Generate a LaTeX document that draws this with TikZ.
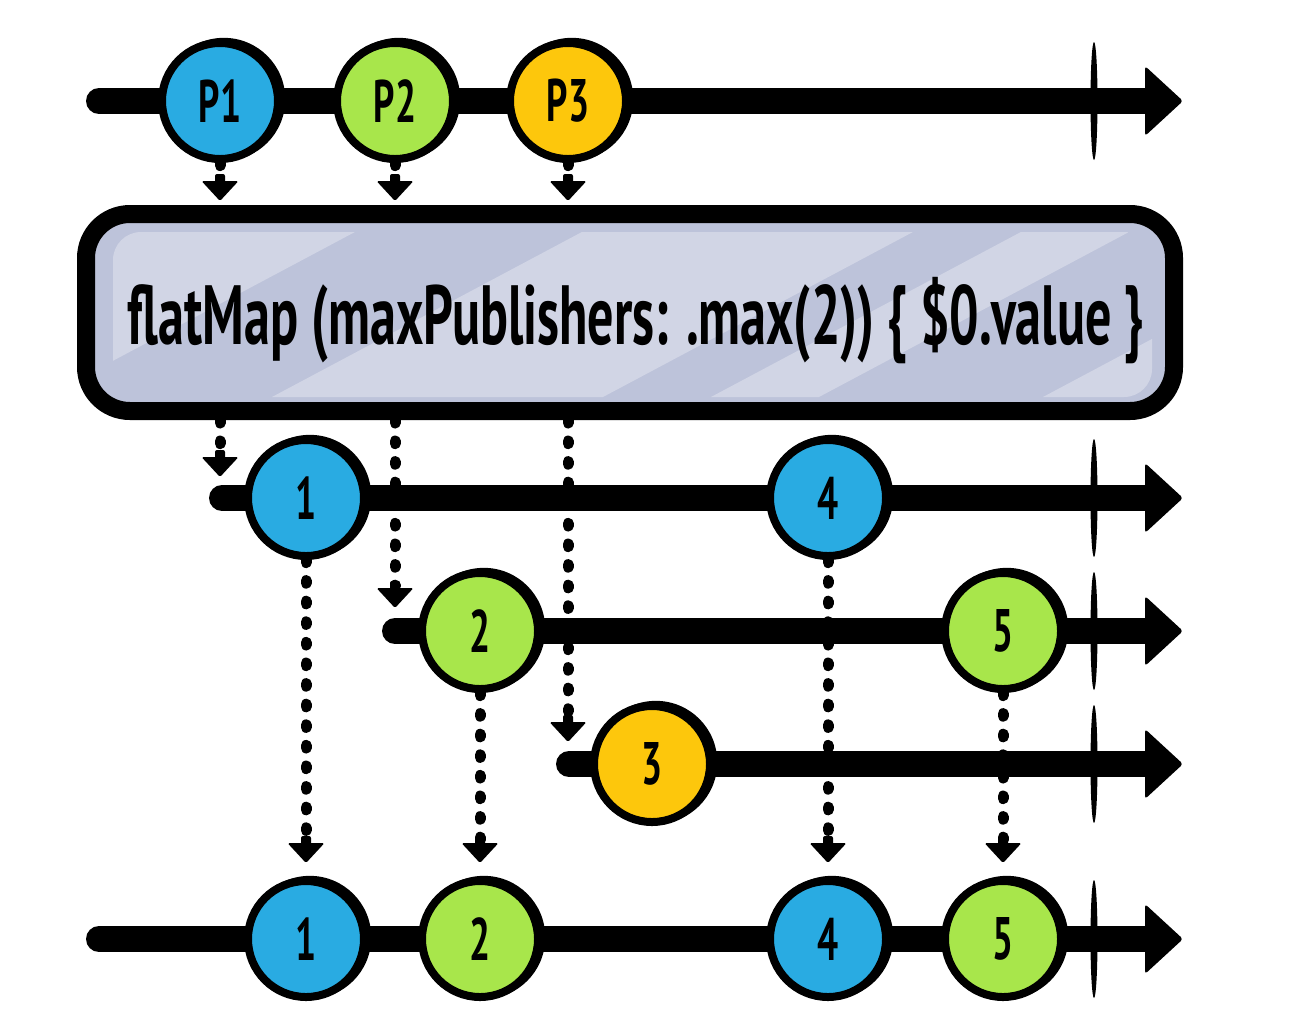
\documentclass[tikz,border=0pt]{standalone}
\usepackage{fontspec}
\usepackage{graphicx}
\newfontfamily\handfont{PT Sans}
\usetikzlibrary{calc,shadows}
\definecolor{cblue}{HTML}{29ABE2}
\definecolor{cgreen}{HTML}{A8E64B}
\definecolor{cyellow}{HTML}{FDC70C}
\definecolor{boxbase}{HTML}{BDC3DA}
\definecolor{boxlight}{HTML}{D1D5E5}
\newcommand{\lab}[1]{\scalebox{0.62}[1]{#1}}
\begin{document}
\begin{tikzpicture}[x=0.5pt,y=-0.5pt,
  tline/.style={line width=13pt, line cap=round},
  marble/.style={circle, draw=black, line width=4pt, minimum size=58pt, inner sep=0pt,
    font=\handfont\bfseries\fontsize{30}{30}\selectfont,
    general shadow={fill=black, shadow scale=1.06, shadow xshift=1.8pt, shadow yshift=0.8pt}},
  mblue/.style={marble, fill=cblue},
  mgreen/.style={marble, fill=cgreen},
  myellow/.style={marble, fill=cyellow},
  dots/.style={line width=5.5pt, line cap=round, dash pattern=on 1.3pt off 9pt},
  dtip/.pic={\fill[rounded corners=0.8pt] (-18.5,-20) -- (18.5,-20) -- (0,0) -- cycle;
             \fill[rounded corners=1pt] (-5,-27) rectangle (5,-18);},
  bigtip/.pic={\fill[rounded corners=1.5pt] (-38,-35) -- (0,0) -- (-38,35) -- cycle;}
]
\useasboundingbox (0,0) rectangle (1300,1024);

% ---------- timelines ----------
\coordinate (s0) at (99,101);  \coordinate (e0) at (1150,101);
\coordinate (s1) at (222,498); \coordinate (e1) at (1150,498);
\coordinate (s2) at (395,631); \coordinate (e2) at (1150,631);
\coordinate (s3) at (569,764); \coordinate (e3) at (1150,764);
\coordinate (s4) at (99,939);  \coordinate (e4) at (1150,939);
\foreach \i/\y in {0/101,1/498,2/631,3/764,4/939}{
  \draw[tline] (s\i) -- (e\i);
  \pic at (1183,\y) {bigtip};
  \fill (1094,\y) ellipse [x radius=3.5, y radius=59];
}

% ---------- operator box ----------
\fill[boxbase, rounded corners=22pt] (86,214) rectangle (1174,411);
\begin{scope}
  \clip[rounded corners=14pt] (113,232) rectangle (1152,397);
  \fill[boxlight] (-540,200) -- (415,200) -- (-17,430) -- (-972,430) -- cycle;
  \fill[boxlight] (642,200) -- (973,200) -- (541,430) -- (210,430) -- cycle;
  \fill[boxlight] (1081,200) -- (1189,200) -- (757,430) -- (649,430) -- cycle;
  \fill[boxlight] (1413,200) -- (1960,200) -- (1528,430) -- (981,430) -- cycle;
\end{scope}
\draw[line width=9pt, rounded corners=22pt] (86,214) rectangle (1174,411);
\node[inner sep=0pt, minimum width=553pt, minimum height=107.5pt] (op) at (630,312.5)
  {\hspace*{6pt}\raisebox{-16pt}[0pt][0pt]{\resizebox{508pt}{\height}{\handfont\bfseries\fontsize{42}{42}\selectfont flatMap (maxPublishers: .max(2)) \{ \$0.value \}}}};

% ---------- marbles ----------
\node[mblue]   (p1) at (220,101) {\lab{P1}};
\node[mgreen]  (p2) at (395,101) {\lab{P2}};
\node[myellow] (p3) at (568,101) {\lab{P3}};

\node[mblue]   (a1) at (306,498) {\lab{1}};
\node[mblue]   (a4) at (828,498) {\lab{4}};
\node[mgreen]  (b2) at (480,631) {\lab{2}};
\node[mgreen]  (b5) at (1003,631) {\lab{5}};
\node[myellow] (c3) at (652,764) {\lab{3}};

\node[mblue]   (o1) at (306,939) {\lab{1}};
\node[mgreen]  (o2) at (480,939) {\lab{2}};
\node[mblue]   (o4) at (828,939) {\lab{4}};
\node[mgreen]  (o5) at (1003,939) {\lab{5}};

% ---------- dotted connectors ----------
\coordinate (t1) at (220,201); \coordinate (t2) at (395,201); \coordinate (t3) at (568,201);
\draw[dots] (p1.south) -- ($(t1)+(0,-22)$); \pic at (t1) {dtip};
\draw[dots] (p2.south) -- ($(t2)+(0,-22)$); \pic at (t2) {dtip};
\draw[dots] (p3.south) -- ($(t3)+(0,-22)$); \pic at (t3) {dtip};

\coordinate (q1) at (220,477); \coordinate (q2) at (395,608); \coordinate (q3) at (568,742);
\draw[dots] (op.south -| q1) -- ($(q1)+(0,-22)$); \pic at (q1) {dtip};
\draw[dots] (op.south -| q2) -- ($(q2)+(0,-22)$); \pic at (q2) {dtip};
\draw[dots] (op.south -| q3) -- ($(q3)+(0,-22)$); \pic at (q3) {dtip};

\coordinate (u1) at (306,863); \coordinate (u2) at (480,863);
\coordinate (u4) at (828,863); \coordinate (u5) at (1003,863);
\draw[dots] (a1.south) -- ($(u1)+(0,-22)$); \pic at (u1) {dtip};
\draw[dots] (b2.south) -- ($(u2)+(0,-22)$); \pic at (u2) {dtip};
\draw[dots] (a4.south) -- ($(u4)+(0,-22)$); \pic at (u4) {dtip};
\draw[dots] (b5.south) -- ($(u5)+(0,-22)$); \pic at (u5) {dtip};
\end{tikzpicture}
\end{document}
